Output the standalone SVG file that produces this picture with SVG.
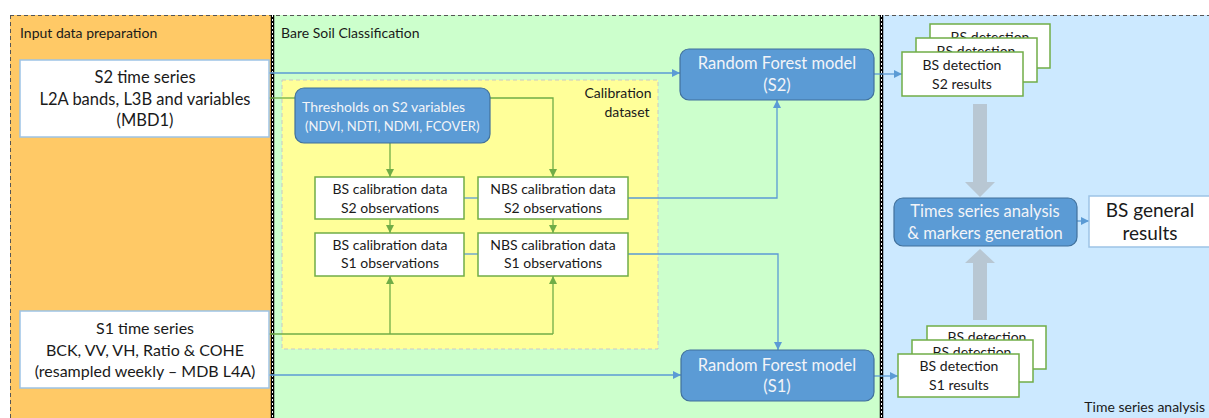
<svg xmlns="http://www.w3.org/2000/svg" width="1209" height="418" viewBox="0 0 1209 418">
<style>
text{font-family:Lato,"Liberation Sans",sans-serif;fill:#1a1a1a}
.t13{font-size:14px}
.c{text-anchor:middle}
.w{fill:#f2f4f8}
.big{font-size:16.5px}
.inbox{fill:#fff;stroke:#9dc3e6;stroke-width:1.5}
.gbox{fill:#fff;stroke:#70ad47;stroke-width:1.5}
.bbox{fill:#5b9bd5;stroke:#41719c;stroke-width:1.2}
.bl{fill:none;stroke:#5b9bd5;stroke-width:1.3}
.gl{fill:none;stroke:#70ad47;stroke-width:1.3}
.grey{fill:#b8c7d3}
</style>
<defs>
<marker id="ab" viewBox="0 0 10 10" refX="10" refY="5" markerWidth="8" markerHeight="8" markerUnits="userSpaceOnUse" orient="auto"><path d="M0,0 L10,5 L0,10 z" fill="#5b9bd5"/></marker>
<marker id="ag" viewBox="0 0 10 10" refX="10" refY="5" markerWidth="8" markerHeight="8" markerUnits="userSpaceOnUse" orient="auto"><path d="M0,0 L10,5 L0,10 z" fill="#70ad47"/></marker>
</defs>

<g id="panels">
<rect x="10" y="15" width="263" height="410" fill="#ffc966"/>
<rect x="273" y="15" width="609" height="410" fill="#ccffcc"/>
<rect x="882" y="15" width="330" height="410" fill="#cce9ff"/>
<line x1="10" y1="15.5" x2="1209" y2="15.5" stroke="#555" stroke-width="1" stroke-dasharray="4 3"/>
<line x1="10.5" y1="15" x2="10.5" y2="418" stroke="#555" stroke-width="1" stroke-dasharray="4 3"/>
<line x1="272.5" y1="15" x2="272.5" y2="418" stroke="#000" stroke-width="3.5"/>
<line x1="272.5" y1="15" x2="272.5" y2="418" stroke="#fff" stroke-width="1" stroke-dasharray="2 2"/>
<line x1="881.5" y1="15" x2="881.5" y2="418" stroke="#000" stroke-width="3.5"/>
<line x1="881.5" y1="15" x2="881.5" y2="418" stroke="#fff" stroke-width="1" stroke-dasharray="2 2"/>
<text x="20" y="38" class="t13">Input data preparation</text>
<text x="281" y="38" class="t13">Bare Soil Classification</text>
<text x="1205" y="412" class="t13" text-anchor="end">Time series analysis</text>
</g>

<g id="calibration-dataset">
<rect x="282" y="80" width="376" height="269" fill="#ffff99" stroke="#c8c8c8" stroke-width="1" stroke-dasharray="4 3"/>
<text x="618" y="98" class="t13 c">Calibration</text>
<text x="627" y="117" class="t13 c">dataset</text>
</g>

<g id="connectors">
<path class="bl" d="M269,73 H680" marker-end="url(#ab)"/>
<path class="bl" d="M464,198 H478"/>
<path class="bl" d="M628,198 H777 V100" marker-end="url(#ab)"/>
<path class="bl" d="M464,254 H478"/>
<path class="bl" d="M628,254 H778 V350" marker-end="url(#ab)"/>
<path class="bl" d="M269,375 H681" marker-end="url(#ab)"/>
<path class="bl" d="M874,74 H902" marker-end="url(#ab)"/>
<path class="bl" d="M874,376 H898" marker-end="url(#ab)"/>
<path class="bl" d="M1077,221 H1089" marker-end="url(#ab)"/>
<path class="gl" d="M269,98 H295"/>
<path class="gl" d="M390,143 V177" marker-end="url(#ag)"/>
<path class="gl" d="M490,98 H553 V177" marker-end="url(#ag)"/>
<path class="gl" d="M390,219 V233" marker-end="url(#ag)"/>
<path class="gl" d="M553,219 V233" marker-end="url(#ag)"/>
<path class="gl" d="M269,334 H553"/>
<path class="gl" d="M390,334 V276" marker-end="url(#ag)"/>
<path class="gl" d="M553,334 V276" marker-end="url(#ag)"/>
<polygon class="grey" points="973,104 987,104 987,182 995,182 980,197 965,182 973,182"/>
<polygon class="grey" points="973,320 987,320 987,263 995,263 980,249 965,263 973,263"/>
</g>

<g id="s2-time-series">
<rect class="inbox" x="20" y="60" width="249" height="77"/>
<text x="145" y="83" class="c" font-size="16.5">S2 time series</text>
<text x="145" y="105" class="c" font-size="16.5">L2A bands, L3B and variables</text>
<text x="145" y="126" class="c" font-size="16.5">(MBD1)</text>
</g>

<g id="s1-time-series">
<rect class="inbox" x="20" y="311" width="249" height="77"/>
<text x="145" y="334" class="c" font-size="16">S1 time series</text>
<text x="145" y="356" class="c" font-size="16">BCK, VV, VH, Ratio &amp; COHE</text>
<text x="145" y="377" class="c" font-size="16">(resampled weekly – MDB L4A)</text>
</g>

<g id="thresholds">
<rect class="bbox" x="295" y="88" width="195" height="55" rx="9"/>
<text x="302" y="112" class="w" font-size="14">Thresholds on S2 variables</text>
<text x="305" y="131" class="w" font-size="13">(NDVI, NDTI, NDMI, FCOVER)</text>
</g>

<g id="bs-s2">
<rect class="gbox" x="315" y="177" width="149" height="42"/>
<text x="390" y="194" class="t13 c">BS calibration data</text>
<text x="390" y="213" class="t13 c">S2 observations</text>
</g>
<g id="nbs-s2">
<rect class="gbox" x="478" y="177" width="150" height="42"/>
<text x="553" y="194" class="t13 c">NBS calibration data</text>
<text x="553" y="213" class="t13 c">S2 observations</text>
</g>
<g id="bs-s1">
<rect class="gbox" x="315" y="233" width="149" height="43"/>
<text x="390" y="250" class="t13 c">BS calibration data</text>
<text x="390" y="268" class="t13 c">S1 observations</text>
</g>
<g id="nbs-s1">
<rect class="gbox" x="478" y="233" width="150" height="43"/>
<text x="553" y="250" class="t13 c">NBS calibration data</text>
<text x="553" y="268" class="t13 c">S1 observations</text>
</g>

<g id="rf-s2">
<rect class="bbox" x="680" y="49" width="194" height="51" rx="9"/>
<text x="777" y="69" class="c w big">Random Forest model</text>
<text x="777" y="91" class="c w big">(S2)</text>
</g>
<g id="rf-s1">
<rect class="bbox" x="681" y="350" width="193" height="51" rx="9"/>
<text x="777" y="371" class="c w big">Random Forest model</text>
<text x="777" y="392" class="c w big">(S1)</text>
</g>

<g id="bs-detection-s2">
<rect class="gbox" x="930" y="24" width="120" height="44"/>
<text x="990" y="42" class="t13 c">BS detection</text>
<rect class="gbox" x="916" y="38" width="121" height="44"/>
<text x="976" y="56" class="t13 c">BS detection</text>
<rect class="gbox" x="902" y="52" width="121" height="44"/>
<text x="962" y="70" class="t13 c">BS detection</text>
<text x="962" y="89" class="t13 c">S2 results</text>
</g>

<g id="bs-detection-s1">
<rect class="gbox" x="927" y="326" width="119" height="43"/>
<text x="987" y="342" class="t13 c">BS detection</text>
<rect class="gbox" x="912" y="340" width="121" height="42"/>
<text x="972" y="357" class="t13 c">BS detection</text>
<rect class="gbox" x="898" y="354" width="121" height="43"/>
<text x="959" y="371" class="t13 c">BS detection</text>
<text x="959" y="390" class="t13 c">S1 results</text>
</g>

<g id="ts-analysis">
<rect class="bbox" x="894" y="198" width="183" height="48" rx="9"/>
<text x="985" y="217" class="c w big">Times series analysis</text>
<text x="985" y="239" class="c w big">&amp; markers generation</text>
</g>

<g id="bs-general">
<rect class="inbox" x="1089" y="196" width="125" height="51"/>
<text x="1150" y="217" class="c" font-size="19">BS general</text>
<text x="1150" y="240" class="c" font-size="19">results</text>
</g>
</svg>
